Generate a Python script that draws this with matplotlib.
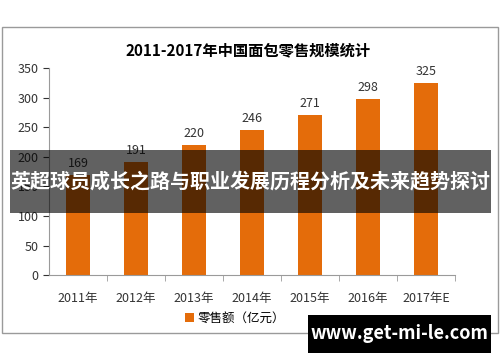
import matplotlib.pyplot as plt
from matplotlib.patches import Rectangle

plt.rcParams['font.family'] = ['Noto Sans CJK SC', 'DejaVu Sans']

years = ['2011年', '2012年', '2013年', '2014年', '2015年', '2016年', '2017年E']
sales = [169, 191, 220, 246, 271, 298, 325]
title = '2011-2017年中国面包零售规模统计'
legend_label = '零售额（亿元）'
banner = '英超球员成长之路与职业发展历程分析及未来趋势探讨'
site = 'www.get-mi-le.com'

orange = '#E46C0A'

fig = plt.figure(figsize=(5, 3.62), dpi=100)

# outer chart frame
fig.patches.append(Rectangle((0.004, 0.08), 0.992, 0.845, transform=fig.transFigure,
                             fill=False, edgecolor='#9a9a9a', linewidth=1))

ax = fig.add_axes([0.098, 0.240, 0.812, 0.572])
x = range(len(years))
bars = ax.bar(x, sales, width=0.4, color=orange, label=legend_label)
for xi, v in zip(x, sales):
    ax.text(xi, v + 8, str(v), ha='center', va='bottom', fontsize=9, color='#333333')

ax.set_xlim(-0.5, len(years) - 0.5)
ax.set_ylim(0, 350)
ax.set_yticks(range(0, 351, 50))
ax.set_xticks([i + 0.5 for i in x], minor=True)
ax.set_xticks(list(x))
ax.set_xticklabels(years, fontsize=9, color='#333333')
ax.tick_params(axis='y', labelsize=9, colors='#333333', length=4)
ax.tick_params(axis='x', which='major', length=0, pad=12)
ax.tick_params(axis='x', which='minor', length=4, direction='out', color='#9a9a9a')
ax.spines['top'].set_visible(False)
ax.spines['right'].set_visible(False)
ax.spines['left'].set_color('#9a9a9a')
ax.spines['bottom'].set_color('#9a9a9a')

fig.text(0.496, 0.862, title, ha='center', va='center', fontsize=11, fontweight='bold')
fig.legend(handles=[bars], labels=[legend_label], loc='center', bbox_to_anchor=(0.47, 0.12),
           frameon=False, fontsize=9, handlelength=0.7, handleheight=0.7, handletextpad=0.3)

# overlay banner
fig.patches.append(Rectangle((0.02, 0.412), 0.962, 0.174, transform=fig.transFigure,
                             facecolor='black', alpha=0.62, edgecolor='none'))
fig.text(0.5, 0.499, banner, ha='center', va='center', fontsize=14.4, fontweight='bold', color='white')

# site box
fig.patches.append(Rectangle((0.616, 0.025), 0.366, 0.105, transform=fig.transFigure,
                             facecolor='black', edgecolor='none'))
fig.text(0.799, 0.078, site, ha='center', va='center', fontsize=13, fontweight='bold', color='white')

fig.savefig('out.png', dpi=100)
